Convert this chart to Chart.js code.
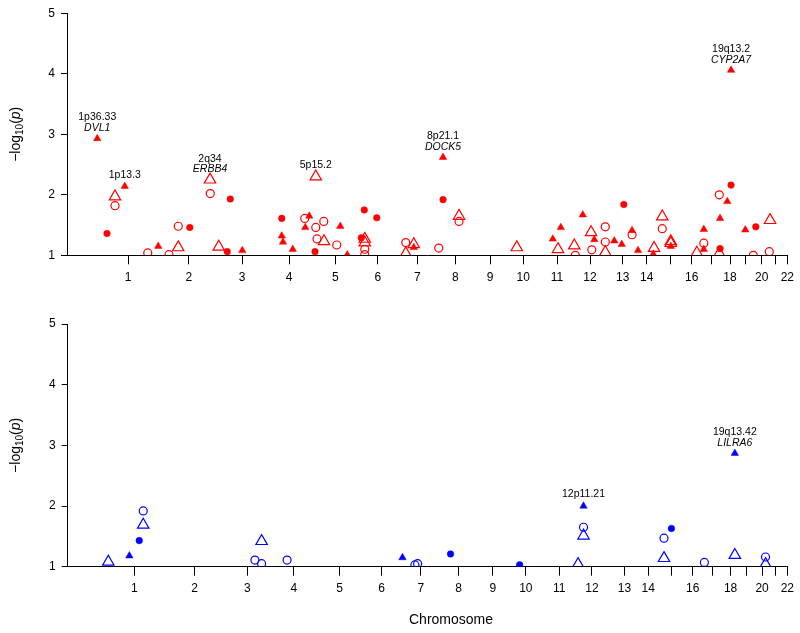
<!DOCTYPE html>
<html><head><meta charset="utf-8">
<script src="https://cdn.jsdelivr.net/npm/chart.js@4/dist/chart.umd.min.js"></script>
<style>
html,body{margin:0;padding:0;background:#fff;}
#wrap{position:relative;width:800px;height:633px;overflow:hidden;}
#c1{position:absolute;left:0;top:0;}
#c2{position:absolute;left:0;top:300px;}
</style></head><body>
<div id="wrap">
<canvas id="c1" width="800" height="300"></canvas>
<canvas id="c2" width="800" height="333"></canvas>
</div>
<script>
// ---- chromosome axis ----
const chromEnds = [244, 487, 700, 888, 1073, 1243, 1401, 1553, 1692, 1825, 1960, 2092, 2223, 2319, 2412, 2499, 2579, 2652, 2715, 2779, 2832, 2881];
const chromLabels = ['1','2','3','4','5','6','7','8','9','10','11','12','13','14','','16','','18','','20','','22'];
const yTicks = [1, 2, 3, 4, 5];

// ---- top panel (red) : [position, -log10(p)] ----
const topFilledTri = [[121,2.93],[231,2.14],[365,1.15],[701,1.08],[859,1.32],[864,1.22],[903,1.10],[969,1.65],[953,1.46],[1093,1.48],[1121,1.01],[1504,2.62],[1387,1.13],[1943,1.27],[1975,1.46],[2063,1.67],[2109,1.26],[2189,1.24],[2219,1.18],[2260,1.41],[2284,1.08],[2345,1.02],[2415,1.15],[2547,1.43],[2547,1.10],[2612,1.61],[2641,1.89],[2656,4.06],[2713,1.42]];
const topFilledCirc = [[160,1.36],[491,1.46],[641,1.06],[653,1.93],[859,1.61],[992,1.06],[1177,1.29],[1189,1.75],[1239,1.62],[1504,1.92],[2227,1.84],[2612,1.11],[2656,2.16],[2755,1.47]];
const topOpenTri = [[192,1.97],[445,1.13],[572,2.25],[607,1.14],[995,2.30],[1028,1.23],[1191,1.27],[1191,1.21],[1355,1.03],[1387,1.18],[1568,1.65],[1799,1.13],[1964,1.10],[2029,1.16],[2096,1.38],[2153,1.05],[2348,1.12],[2381,1.64],[2415,1.23],[2415,1.20],[2519,1.04],[2609,1.03],[2812,1.58]];
const topOpenCirc = [[192,1.82],[323,1.04],[408,1.01],[445,1.48],[573,2.02],[951,1.61],[995,1.46],[1000,1.27],[1027,1.56],[1079,1.17],[1191,1.10],[1191,1.01],[1355,1.21],[1487,1.12],[1568,1.56],[2033,1.00],[2099,1.09],[2153,1.47],[2153,1.22],[2260,1.34],[2381,1.44],[2547,1.20],[2609,2.00],[2745,1.00],[2809,1.06]];
const topBands = ['1p36.33','1p13.3','2q34','5p15.2','8p21.1','19q13.2'];
const topGenes = ['DVL1','','ERBB4','','DOCK5','CYP2A7'];
const topAnnotAt = [[121,2.93],[231,2.14],[572,2.25],[995,2.30],[1504,2.62],[2656,4.06]];

// ---- bottom panel (blue) ----
const botFilledTri = [[224,1.18],[1327,1.15],[2058,2.00],[2669,2.87]];
const botFilledCirc = [[264,1.43],[1521,1.21],[1800,1.03],[2413,1.63]];
const botOpenTri = [[139,1.08],[280,1.69],[758,1.42],[2036,1.04],[2058,1.51],[2383,1.14],[2669,1.19],[2793,1.04]];
const botOpenCirc = [[280,1.92],[731,1.11],[758,1.05],[861,1.11],[1377,1.03],[1388,1.05],[2058,1.65],[2383,1.47],[2546,1.07],[2793,1.16]];
const botBands = ['12p11.21','19q13.42'];
const botGenes = ['','LILRA6'];
const botAnnotAt = [[2058,2.00],[2669,2.87]];

const FONT = "'Liberation Sans', Arial, Helvetica, sans-serif";

function pts(a){ return a.map(p => ({x:p[0], y:p[1]})); }

function makeChart(id, o) {
  const col = o.color;
  const datasets = [
    {label:'open triangle', data: pts(o.openTri), pointStyle:'triangle', pointRadius:6.6, backgroundColor:'rgba(0,0,0,0)', borderColor:col, borderWidth:1.2, clip:0},
    {label:'open circle', data: pts(o.openCirc), pointStyle:'circle', pointRadius:4, backgroundColor:'rgba(0,0,0,0)', borderColor:col, borderWidth:1.2, clip:0},
    {label:'filled circle', data: pts(o.filledCirc), pointStyle:'circle', pointRadius:3.3, backgroundColor:col, borderColor:col, borderWidth:0.5, clip:0},
    {label:'filled triangle', data: pts(o.filledTri), pointStyle:'triangle', pointRadius:4.3, backgroundColor:col, borderColor:col, borderWidth:0.5, clip:0}
  ];
  const annot = {
    id:'annot',
    afterDatasetsDraw(chart){
      const {ctx, scales:{x, y}} = chart;
      ctx.save();
      ctx.fillStyle = '#000'; ctx.textAlign = 'center'; ctx.textBaseline = 'middle';
      o.bands.forEach((b, i) => {
        const px = x.getPixelForValue(o.annotAt[i][0]);
        const py = y.getPixelForValue(o.annotAt[i][1]);
        const g = o.genes[i];
        if (g) {
          ctx.font = '10.5px ' + FONT; ctx.fillText(b, px, py - 21);
          ctx.font = 'italic 10.5px ' + FONT; ctx.fillText(g, px, py - 10.5);
        } else {
          ctx.font = '10.5px ' + FONT; ctx.fillText(b, px, py - 11.5);
        }
      });
      ctx.restore();
    },
    afterDraw(chart){
      const {ctx, chartArea} = chart;
      ctx.save();
      ctx.fillStyle = '#000';
      ctx.translate(20, (chartArea.top + chartArea.bottom) / 2);
      ctx.rotate(-Math.PI / 2);
      ctx.textBaseline = 'alphabetic'; ctx.textAlign = 'left';
      const parts = [
        {t:'\u2212log', f:'14px ' + FONT, dy:0},
        {t:'10', f:'10px ' + FONT, dy:3},
        {t:'(', f:'14px ' + FONT, dy:0},
        {t:'p', f:'italic 14px ' + FONT, dy:0},
        {t:')', f:'14px ' + FONT, dy:0}
      ];
      let total = 0;
      parts.forEach(p => { ctx.font = p.f; p.w = ctx.measureText(p.t).width; total += p.w; });
      let cx = -total / 2;
      parts.forEach(p => { ctx.font = p.f; ctx.fillText(p.t, cx, p.dy); cx += p.w; });
      ctx.restore();
      if (o.xTitle) {
        ctx.save();
        ctx.fillStyle = '#000'; ctx.font = '14px ' + FONT;
        ctx.textAlign = 'center'; ctx.textBaseline = 'middle';
        ctx.fillText(o.xTitle, o.xTitlePos[0], o.xTitlePos[1]);
        ctx.restore();
      }
    }
  };
  return new Chart(document.getElementById(id), {
    type:'scatter',
    data:{datasets},
    plugins:[annot],
    options:{
      responsive:false, animation:false, events:[],
      layout:{padding:{left:0, right:o.padRight, top:o.padTop, bottom:0}},
      plugins:{legend:{display:false}, tooltip:{enabled:false}},
      scales:{
        x:{
          type:'linear', min:o.xMin, max:chromEnds[chromEnds.length-1],
          afterBuildTicks(s){ s.ticks = chromEnds.map(v => ({value:v})); },
          afterFit(s){ s.height = o.xAxisH; },
          ticks:{autoSkip:false, maxRotation:0, minRotation:0, padding:6, color:'#000', font:{family:FONT, size:12},
            callback(v){ const i = chromEnds.indexOf(v); return i >= 0 ? chromLabels[i] : ''; }},
          grid:{display:true, drawOnChartArea:false, drawTicks:true, tickLength:9, color:'#000', lineWidth:1},
          border:{display:true, color:'#000', width:1}
        },
        y:{
          type:'linear', min:1, max:5,
          afterBuildTicks(s){ s.ticks = yTicks.map(v => ({value:v})); },
          afterFit(s){ s.width = o.yAxisW; },
          ticks:{padding:6, color:'#000', font:{family:FONT, size:12}},
          grid:{display:true, drawOnChartArea:false, drawTicks:true, tickLength:6, color:'#000', lineWidth:1},
          border:{display:true, color:'#000', width:1}
        }
      }
    }
  });
}

makeChart('c1', {
  color:'#ff0000', filledTri:topFilledTri, filledCirc:topFilledCirc, openTri:topOpenTri, openCirc:topOpenCirc,
  bands:topBands, genes:topGenes, annotAt:topAnnotAt,
  xMin:0, padRight:12.7, padTop:13.3, xAxisH:44.7, yAxisW:67
});
makeChart('c2', {
  color:'#0000ff', filledTri:botFilledTri, filledCirc:botFilledCirc, openTri:botOpenTri, openCirc:botOpenCirc,
  bands:botBands, genes:botGenes, annotAt:botAnnotAt,
  xMin:-25, padRight:12.3, padTop:24, xAxisH:66.3, yAxisW:67.7,
  xTitle:'Chromosome', xTitlePos:[451, 320]
});
</script>
</body></html>
